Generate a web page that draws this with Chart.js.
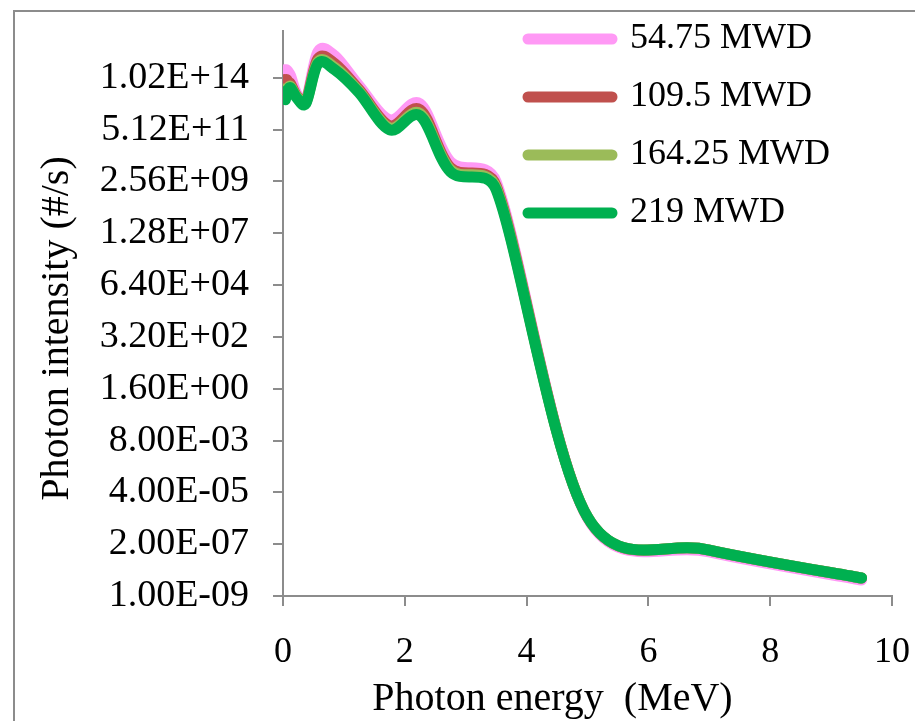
<!DOCTYPE html>
<html>
<head>
<meta charset="utf-8">
<script src="https://cdn.jsdelivr.net/npm/chart.js@4.4.1/dist/chart.umd.min.js"></script>
<style>
  html, body { margin: 0; padding: 0; background: #ffffff; }
  canvas { display: block; }
</style>
</head>
<body>
<canvas id="c" width="915" height="721"></canvas>
<script>
// ---- data ----
const energies = [0.01, 0.025, 0.0375, 0.0575, 0.085, 0.125, 0.225, 0.375, 0.575, 0.85, 1.25, 1.75, 2.25, 2.75, 3.5, 5, 7, 9.5];
const mwd54 = [1.9e14, 2.3e14, 1.9e14, 2.3e14, 1.9e14, 1.26e14, 2.0e13, 9.7e12, 1.47e15, 9.7e14, 4.5e13, 1.4e12, 7.2e12, 1.9e10, 2.46e9, 2.9e-6, 9.0e-8, 5.1e-9];
const mwd109 = [6.8e13, 8.4e13, 5.5e13, 8.4e13, 6.8e13, 5.5e13, 1.63e13, 8.8e12, 7.2e14, 4.3e14, 3.0e13, 7.6e11, 3.9e12, 1.03e10, 1.63e9, 3.2e-6, 1.1e-7, 6.3e-9];
const mwd164 = [2.0e13, 3.2e13, 1.6e13, 3.0e13, 3.8e13, 4.2e13, 1.5e13, 7.8e12, 5.2e14, 2.9e14, 2.5e13, 6.0e11, 2.6e12, 8.4e9, 1.33e9, 3.2e-6, 1.1e-7, 6.3e-9];
const mwd219 = [1.32e13, 2.45e13, 1.08e13, 2.0e13, 3.0e13, 3.7e13, 1.32e13, 7.2e12, 4.3e14, 2.3e14, 2.2e13, 5.0e11, 2.1e12, 6.8e9, 1.08e9, 3.2e-6, 1.1e-7, 6.3e-9];
const seriesNames = ['54.75 MWD', '109.5 MWD', '164.25 MWD', '219 MWD'];
const yTickValues = [1e-9, 2e-7, 4e-5, 8e-3, 1.6, 320, 64000, 1.28e7, 2.56e9, 5.12e11, 1.024e14];
const yTickLabels = ['1.00E-09', '2.00E-07', '4.00E-05', '8.00E-03', '1.60E+00', '3.20E+02', '6.40E+04', '1.28E+07', '2.56E+09', '5.12E+11', '1.02E+14'];
const xTitle = 'Photon energy  (MeV)       ';
const yTitle = 'Photon intensity (#/s)   ';

const seriesValues = [mwd54, mwd109, mwd164, mwd219];
const colors = ['#ff99f5', '#c0504d', '#9bbb59', '#00b050'];
const drawOrder = [4, 3, 2, 1];

const datasets = seriesValues.map((vals, i) => ({
  label: seriesNames[i],
  data: energies.map((e, j) => ({ x: e, y: vals[j] })),
  borderColor: colors[i],
  backgroundColor: colors[i],
  borderWidth: 11,
  borderCapStyle: 'round',
  borderJoinStyle: 'round',
  pointRadius: 0,
  pointHoverRadius: 0,
  tension: 0.4,
  fill: false,
  order: drawOrder[i]
}));

const serif = 'Liberation Serif, Times New Roman, serif';

// Spreadsheet-style smoothing: Bezier arms = (next - prev) / 6, each arm
// limited to half of its own segment; computed from the scale pixels.
const smoothing = {
  id: 'smoothing',
  beforeDatasetDraw(chart, args) {
    const line = args.meta.dataset;
    if (!line) return;
    line.updateControlPoints(chart.chartArea, 'x');
    const pts = line.points;
    const n = pts.length;
    const dist = (a, b) => Math.hypot(b.x - a.x, b.y - a.y);
    for (let i = 0; i < n; i++) {
      const cur = pts[i];
      const prev = pts[Math.max(i - 1, 0)];
      const next = pts[Math.min(i + 1, n - 1)];
      const tx = (next.x - prev.x) / 6;
      const ty = (next.y - prev.y) / 6;
      const tl = Math.hypot(tx, ty) || 1;
      const fwd = Math.min(tl, dist(cur, next) / 2) / tl;
      const bwd = Math.min(tl, dist(prev, cur) / 2) / tl;
      cur.cp2x = cur.x + tx * fwd;
      cur.cp2y = cur.y + ty * fwd;
      cur.cp1x = cur.x - tx * bwd;
      cur.cp1y = cur.y - ty * bwd;
    }
  }
};

const frame = {
  id: 'frame',
  beforeDraw(chart) {
    const ctx = chart.ctx;
    ctx.save();
    ctx.strokeStyle = '#8c8c8c';
    ctx.lineWidth = 2;
    ctx.strokeRect(14, 11, 1000, 1000);
    ctx.restore();
  },
  afterLayout(chart) {
    const lg = chart.legend;
    if (lg) {
      lg.left = 506;
      lg.top = -1;
      lg.right = 915;
      lg.bottom = 721;
    }
  }
};

new Chart(document.getElementById('c'), {
  type: 'line',
  data: { datasets },
  plugins: [frame, smoothing],
  options: {
    responsive: false,
    animation: false,
    events: [],
    layout: { padding: { top: 31, left: 0, right: 23, bottom: 0 } },
    plugins: {
      tooltip: { enabled: false },
      legend: {
        position: 'chartArea',
        align: 'start',
        labels: {
          usePointStyle: true,
          pointStyle: 'line',
          pointStyleWidth: 84,
          padding: 22,
          color: '#000000',
          font: { family: serif, size: 36 },
          sort: (a, b) => a.datasetIndex - b.datasetIndex,
          generateLabels(chart) {
            const items = Chart.defaults.plugins.legend.labels.generateLabels(chart);
            items.forEach(it => { it.lineCap = 'round'; it.lineWidth = 11; });
            return items;
          }
        }
      }
    },
    scales: {
      x: {
        type: 'linear',
        position: 'bottom',
        min: 0,
        max: 10,
        afterFit(scale) {
          scale.height = 125;
          scale.paddingLeft = 0;
          scale.paddingRight = 0;
        },
        ticks: {
          stepSize: 2,
          color: '#000000',
          padding: 29,
          font: { family: serif, size: 36, lineHeight: 1 },
          maxRotation: 0
        },
        grid: { drawOnChartArea: false, drawTicks: true, tickLength: 10, color: '#8c8c8c', lineWidth: 2 },
        border: { display: true, color: '#8c8c8c', width: 2 },
        title: {
          display: true,
          text: xTitle,
          color: '#000000',
          font: { family: serif, size: 40, lineHeight: 1 },
          padding: { top: 0, bottom: 2 }
        }
      },
      y: {
        type: 'logarithmic',
        position: 'left',
        min: 1e-9,
        max: 1.215e16,
        bounds: 'data',
        afterBuildTicks(scale) {
          scale.ticks = yTickValues.map(v => ({ value: v }));
        },
        afterFit(scale) {
          scale.width = 283;
          scale.paddingTop = 0;
          scale.paddingBottom = 0;
        },
        ticks: {
          autoSkip: false,
          color: '#000000',
          padding: 24,
          font: { family: serif, size: 38 },
          callback: (value, index) => yTickLabels[index]
        },
        grid: { drawOnChartArea: false, drawTicks: true, tickLength: 10, color: '#8c8c8c', lineWidth: 2 },
        border: { display: true, color: '#8c8c8c', width: 2 },
        title: {
          display: true,
          text: yTitle,
          color: '#000000',
          font: { family: serif, size: 40, lineHeight: 1 },
          padding: { top: 37, bottom: 0 }
        }
      }
    }
  }
});
</script>
</body>
</html>
